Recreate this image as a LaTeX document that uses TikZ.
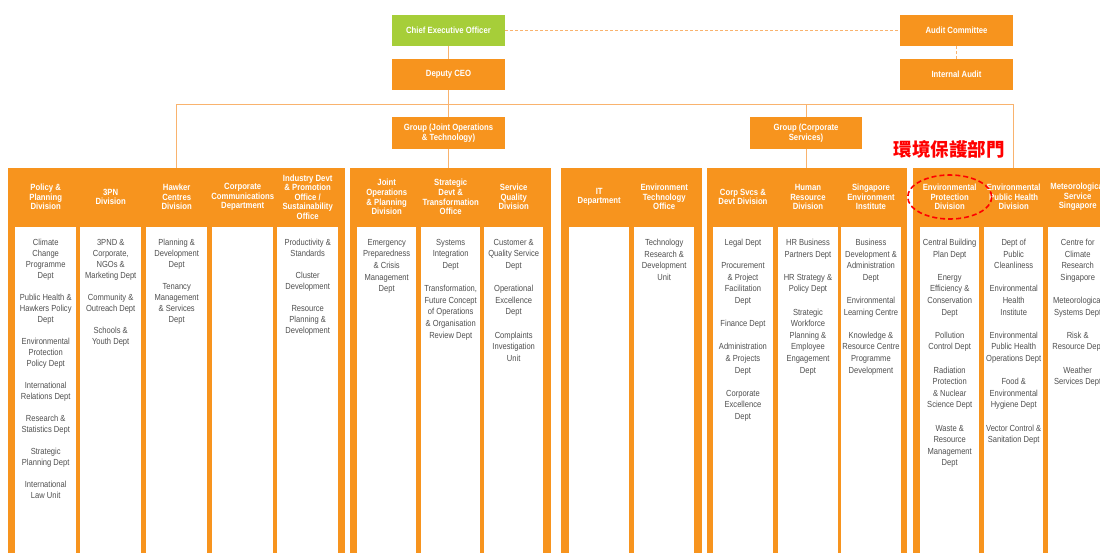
\documentclass[tikz,border=0pt]{standalone}
\usepackage{fontspec}
\newfontfamily\orgfont[FakeStretch=0.86]{Liberation Sans}
\newfontfamily\cjk{Noto Sans CJK TC}

\definecolor{nea}{HTML}{F7941E}
\definecolor{ceogreen}{HTML}{A6CE39}
\definecolor{deptgrey}{HTML}{505050}
\definecolor{wire}{HTML}{F9B36E}

\def\colw{61}
\def\deptskip{11}
\newcommand\pgap{\\[\baselineskip]}

\tikzset{
  topbox/.style={fill=nea, text=white, align=center, inner sep=0,
    font=\orgfont\bfseries\fontsize{9}{9.6}\selectfont,
    minimum width=113pt, minimum height=31pt},
  panel/.style={fill=nea, anchor=north west, inner sep=0, minimum height=400pt},
  colbox/.style={fill=white, anchor=north west, inner sep=0,
    minimum width=\colw pt, minimum height=340pt},
  head/.style={text=white, align=center, inner sep=0,
    font=\orgfont\bfseries\fontsize{9}{9.6}\selectfont},
  deptlist/.style={text=deptgrey, align=center, anchor=north, inner sep=0,
    font=\orgfont\fontsize{8.8}{\deptskip}\selectfont},
  link/.style={draw=wire, line width=0.9pt},
  hilite/.style={draw=red, line width=1.6pt, dash pattern=on 5pt off 3pt},
}

% one column: white box, heading above it, list of depts inside it
\newcommand\orgcol[4]{%
  \node[colbox] (#1) at (#2,227) {};
  \node[head] (#1-h) at (#1.north |- hdr) {#3};
  \node[deptlist] (#1-d) at ([yshift=-12pt]#1.north) {#4};
}

\begin{document}
\begin{tikzpicture}[x=1pt, y=-1pt]
  \useasboundingbox (0,0) rectangle (1100,552);
  \clip (0,0) rectangle (1100,552);
  \fill[white] (0,0) rectangle (1100,552);
  \coordinate (bus) at (0,104);
  \coordinate (hdr) at (0,197);

  % TOP PART
  \node[topbox, fill=ceogreen] (ceo) at (448.5,30.5) {Chief Executive Officer};
  \node[topbox] (dceo) at (448.5,74.5) {Deputy CEO};
  \node[topbox] (audit) at (956.5,30.5) {Audit Committee};
  \node[topbox] (iaudit) at (956.5,74.5) {Internal Audit};
  \node[topbox, minimum height=32pt] (grpjot) at (448.5,133) {Group (Joint Operations\\ \& Technology)};
  \node[topbox, minimum width=112pt, minimum height=32pt] (grpcs) at (806,133) {Group (Corporate\\ Services)};

  % PANELS
  \node[panel, minimum width=337pt] (pA) at (8,168) {};
  \node[panel, minimum width=201pt] (pB) at (350,168) {};
  \node[panel, minimum width=141pt] (pC) at (561,168) {};
  \node[panel, minimum width=200pt] (pD) at (707,168) {};
  \node[panel, minimum width=201pt] (pE) at (913,168) {};

  % WIRES
  \coordinate (busL) at (pA.north |- bus);
  \coordinate (busR) at (audit.east |- bus);
  \draw[link] (busL) -- (busR);
  \draw[link] (busL) -- (pA.north);
  \draw[link] (busR) -- (busR |- pE.north);
  \draw[link] (ceo) -- (dceo);
  \draw[link] (dceo) -- (grpjot);
  \draw[link] (grpjot.south) -- (grpjot.south |- pB.north);
  \draw[link] (grpcs.north |- bus) -- (grpcs);
  \draw[link] (grpcs.south) -- (grpcs.south |- pD.north);
  \draw[link, dash pattern=on 3pt off 2pt] (ceo) -- (audit);
  \draw[link, dash pattern=on 3pt off 2pt] (audit) -- (iaudit);

  % PANEL A
  \orgcol{pA1}{15}{Policy \&\\ Planning\\ Division}
    {Climate\\ Change\\ Programme\\ Dept\pgap Public Health \&\\ Hawkers Policy\\ Dept\pgap
     Environmental\\ Protection\\ Policy Dept\pgap International\\ Relations Dept\pgap
     Research \&\\ Statistics Dept\pgap Strategic\\ Planning Dept\pgap International\\ Law Unit}
  \orgcol{pA2}{80}{3PN\\ Division}
    {3PND \&\\ Corporate,\\ NGOs \&\\ Marketing Dept\pgap Community \&\\ Outreach Dept\pgap
     Schools \&\\ Youth Dept}
  \orgcol{pA3}{146}{Hawker\\ Centres\\ Division}
    {Planning \&\\ Development\\ Dept\pgap Tenancy\\ Management\\ \& Services\\ Dept}
  \orgcol{pA4}{212}{Corporate\\ Communications\\ Department}{}
  \orgcol{pA5}{277}{Industry Devt\\ \& Promotion\\ Office /\\ Sustainability\\ Office}
    {Productivity \&\\ Standards\pgap Cluster\\ Development\pgap Resource\\ Planning \&\\ Development}

  % PANEL B
  \def\colw{59}\def\deptskip{11.6}
  \orgcol{pB1}{357}{Joint\\ Operations\\ \& Planning\\ Division}
    {Emergency\\ Preparedness\\ \& Crisis\\ Management\\ Dept}
  \orgcol{pB2}{421}{Strategic\\ Devt \&\\ Transformation\\ Office}
    {Systems\\ Integration\\ Dept\pgap Transformation,\\ Future Concept\\ of Operations\\
     \& Organisation\\ Review Dept}
  \orgcol{pB3}{484}{Service\\ Quality\\ Division}
    {Customer \&\\ Quality Service\\ Dept\pgap Operational\\ Excellence\\ Dept\pgap
     Complaints\\ Investigation\\ Unit}

  % PANEL C
  \def\colw{60}
  \orgcol{pC1}{569}{IT\\ Department}{}
  \orgcol{pC2}{634}{Environment\\ Technology\\ Office}
    {Technology\\ Research \&\\ Development\\ Unit}

  % PANEL D
  \def\colw{59.5}
  \orgcol{pD1}{713}{Corp Svcs \&\\ Devt Division}
    {Legal Dept\pgap Procurement\\ \& Project\\ Facilitation\\ Dept\pgap Finance Dept\pgap
     Administration\\ \& Projects\\ Dept\pgap Corporate\\ Excellence\\ Dept}
  \orgcol{pD2}{778}{Human\\ Resource\\ Division}
    {HR Business\\ Partners Dept\pgap HR Strategy \&\\ Policy Dept\pgap Strategic\\ Workforce\\
     Planning \&\\ Employee\\ Engagement\\ Dept}
  \orgcol{pD3}{841}{Singapore\\ Environment\\ Institute}
    {Business\\ Development \&\\ Administration\\ Dept\pgap Environmental\\ Learning Centre\pgap
     Knowledge \&\\ Resource Centre\\ Programme\\ Development}

  % PANEL E
  \def\colw{59}
  \orgcol{pE1}{920}{Environmental\\ Protection\\ Division}
    {Central Building\\ Plan Dept\pgap Energy\\ Efficiency \&\\ Conservation\\ Dept\pgap
     Pollution\\ Control Dept\pgap Radiation\\ Protection\\ \& Nuclear\\ Science Dept\pgap
     Waste \&\\ Resource\\ Management\\ Dept}
  \orgcol{pE2}{984}{Environmental\\ Public Health\\ Division}
    {Dept of\\ Public\\ Cleanliness\pgap Environmental\\ Health\\ Institute\pgap
     Environmental\\ Public Health\\ Operations Dept\pgap Food \&\\ Environmental\\
     Hygiene Dept\pgap Vector Control \&\\ Sanitation Dept}
  \orgcol{pE3}{1048}{Meteorological\\ Service\\ Singapore}
    {Centre for\\ Climate\\ Research\\ Singapore\pgap Meteorological\\ Systems Dept\pgap
     Risk \&\\ Resource Dept\pgap Weather\\ Services Dept}

  % MARKER
  \node[text=red, font=\cjk\bfseries\fontsize{18.5}{18.5}\selectfont] (epdzh) at (949,149) {環境保護部門};
  \draw[hilite] (pE1-h) ellipse [x radius=42, y radius=22];
\end{tikzpicture}
\end{document}
